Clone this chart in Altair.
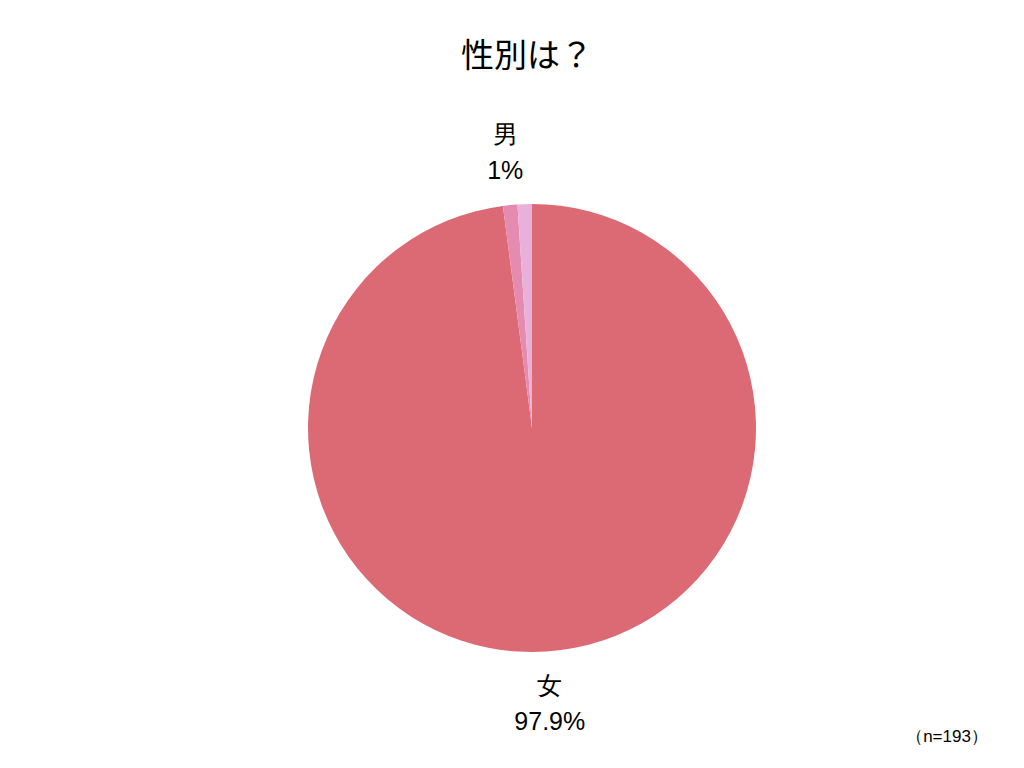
import altair as alt
import pandas as pd

categories = ["女", "男", "無回答"]
counts = [189, 2, 2]
pct_labels = ["97.9%", "1%", ""]
name_labels = ["女", "男", ""]
colors = ["#DC6A74", "#E58BAF", "#E9B1D9"]

df = pd.DataFrame({
    "category": categories,
    "count": counts,
    "label": [f"{n}\n{p}" if n else "" for n, p in zip(name_labels, pct_labels)],
    "order": list(range(len(categories))),
})

cx, cy = 524, 420

pie = alt.Chart(df).mark_arc(outerRadius=224, strokeWidth=0).encode(
    theta=alt.Theta("count:Q", stack=True),
    order=alt.Order("order:Q"),
    color=alt.Color("category:N", scale=alt.Scale(domain=categories, range=colors), legend=None),
    x=alt.value(cx), y=alt.value(cy),
)

label_base = alt.Chart(df).transform_joinaggregate(
    total="sum(count)"
).transform_window(
    cum="sum(count)", sort=[alt.SortField("order")], frame=[None, 0]
).transform_calculate(
    mid="(datum.cum - datum.count / 2) / datum.total * 2 * PI"
)

def label_layer(idx, radius, dx):
    return label_base.transform_filter(alt.datum.order == idx).mark_text(
        radius=radius, fontSize=25, font="Liberation Sans", lineBreak="\n", lineHeight=36,
        color="#000000", baseline="middle", align="center", dx=dx, dy=1
    ).encode(
        theta=alt.Theta("mid:Q", scale=None),
        x=alt.value(cx), y=alt.value(cy), text="label:N",
    )

labels_bottom = label_layer(0, 258, 1)
labels_top = label_layer(1, 295, 2)

title_df = pd.DataFrame({"t": ["性別は？"]})
title = alt.Chart(title_df).mark_text(
    fontSize=33, font="Noto Sans CJK JP", color="#000000", align="center", baseline="middle"
).encode(x=alt.value(519), y=alt.value(49), text="t:N")

note_df = pd.DataFrame({"t": ["（n=193）"]})
note = alt.Chart(note_df).mark_text(
    fontSize=17, font="Liberation Sans", color="#000000", align="center", baseline="middle"
).encode(x=alt.value(939), y=alt.value(729), text="t:N")

chart = alt.layer(pie, labels_bottom, labels_top, title, note).properties(
    width=1008, height=752, autosize=alt.AutoSizeParams(type="none"), padding=0,
    background="#ffffff",
).configure_view(strokeWidth=0, stroke=None)

chart.save("out.html", embed_options={"renderer": "svg", "actions": False})
